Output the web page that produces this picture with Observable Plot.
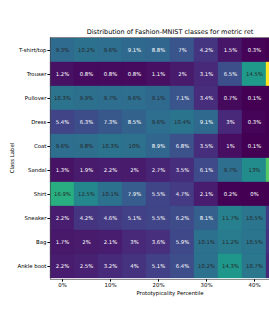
<!DOCTYPE html>
<html><head><meta charset="utf-8">
<script src="https://cdn.jsdelivr.net/npm/d3@7"></script>
<script src="https://cdn.jsdelivr.net/npm/@observablehq/plot@0.6"></script>
<style>
html,body{margin:0;padding:0;background:#fff;overflow:hidden;}
#wrap{position:relative;width:269px;height:314px;overflow:hidden;font-family:"DejaVu Sans",sans-serif;color:#000;background:#fff;}
#title{position:absolute;left:50px;width:240px;top:27.5px;text-align:center;font-size:6.5px;line-height:8px;white-space:nowrap;}
#xlabel{position:absolute;left:50px;width:240px;top:290px;text-align:center;font-size:5.4px;line-height:7px;white-space:nowrap;}
#ylabel{position:absolute;left:12px;top:158px;transform:translate(-50%,-50%) rotate(-90deg);font-size:5.4px;line-height:7px;white-space:nowrap;}
#chart{position:absolute;left:0;top:35px;width:300px;}
#chart svg{max-width:none !important;width:300px;height:284px;}
</style></head>
<body>
<div id="wrap">
  <div id="title">Distribution of Fashion-MNIST classes for metric ret</div>
  <div id="chart"></div>
  <div id="xlabel">Prototypicality Percentile</div>
  <div id="ylabel">Class Label</div>
</div>
<script>
const columns = ["0%","5%","10%","15%","20%","25%","30%","35%","40%","45%"];
const tickLabels = ["0%","10%","20%","30%","40%"];
const classes = ["T-shirt/top","Trouser","Pullover","Dress","Coat","Sandal","Shirt","Sneaker","Bag","Ankle boot"];

const tshirt    = [9.3, 10.2, 9.6, 9.1, 8.8, 7, 4.2, 1.5, 0.3, 0.1];
const trouser   = [1.2, 0.8, 0.8, 0.8, 1.1, 2, 3.1, 6.5, 14.5, 27];
const pullover  = [10.3, 9.9, 9.7, 9.6, 9.14, 7.1, 3.4, 0.7, 0.1, 0];
const dress     = [5.4, 6.3, 7.3, 8.5, 9.6, 10.4, 9.1, 3, 0.3, 0.1];
const coat      = [9.6, 9.8, 10.3, 10, 8.9, 6.8, 3.5, 1, 0.1, 0];
const sandal    = [1.3, 1.9, 2.2, 2, 2.7, 3.5, 6.1, 9.7, 13, 20];
const shirt     = [16.9, 12.5, 10.1, 7.9, 5.5, 4.7, 2.1, 0.2, 0, 0];
const sneaker   = [2.2, 4.2, 4.6, 5.1, 5.5, 6.2, 8.1, 11.7, 10.5, 4.5];
const bag       = [1.7, 2, 2.1, 3, 3.6, 5.9, 10.1, 11.2, 10.5, 3.8];
const ankleboot = [2.2, 2.5, 3.2, 4, 5.1, 6.4, 10.2, 14.3, 10.7, 3];

const rows = [tshirt, trouser, pullover, dress, coat, sandal, shirt, sneaker, bag, ankleboot];
const data = [];
rows.forEach((vals, i) => vals.forEach((v, j) => data.push({cls: classes[i], col: columns[j], value: v})));

// the last column lies beyond the visible picture edge: its labels are not shown
const lastCol = columns[columns.length - 1];
const labelled = data.filter(d => d.col !== lastCol);

const fmt = v => `${+v.toFixed(1)}%`;
const darkText = d => d.value > 9.12;

const plot = Plot.plot({
  width: 300,
  height: 284,
  marginTop: 2,
  marginLeft: 50,
  marginRight: 10,
  marginBottom: 40,
  style: {fontFamily: "DejaVu Sans, sans-serif", fontSize: "5.4px", background: "white", color: "#000", maxWidth: "none"},
  x: {type: "band", domain: columns, padding: 0, ticks: tickLabels, tickSize: 2.6, tickPadding: 1.5, label: null},
  y: {type: "band", domain: classes, padding: 0, tickSize: 2.6, tickPadding: 1.5, label: null},
  color: {type: "linear", scheme: "viridis", domain: [0, 27], legend: false},
  marks: [
    Plot.cell(data, {x: "col", y: "cls", fill: "value", stroke: "value", strokeWidth: 0.3, inset: 0}),
    Plot.text(labelled.filter(darkText), {x: "col", y: "cls", text: d => fmt(d.value), fill: "#262626", fontSize: 5.3}),
    Plot.text(labelled.filter(d => !darkText(d)), {x: "col", y: "cls", text: d => fmt(d.value), fill: "white", fontSize: 5.3}),
    Plot.frame({stroke: "#444", strokeWidth: 0.6})
  ]
});
document.getElementById("chart").appendChild(plot);
</script>
</body></html>
